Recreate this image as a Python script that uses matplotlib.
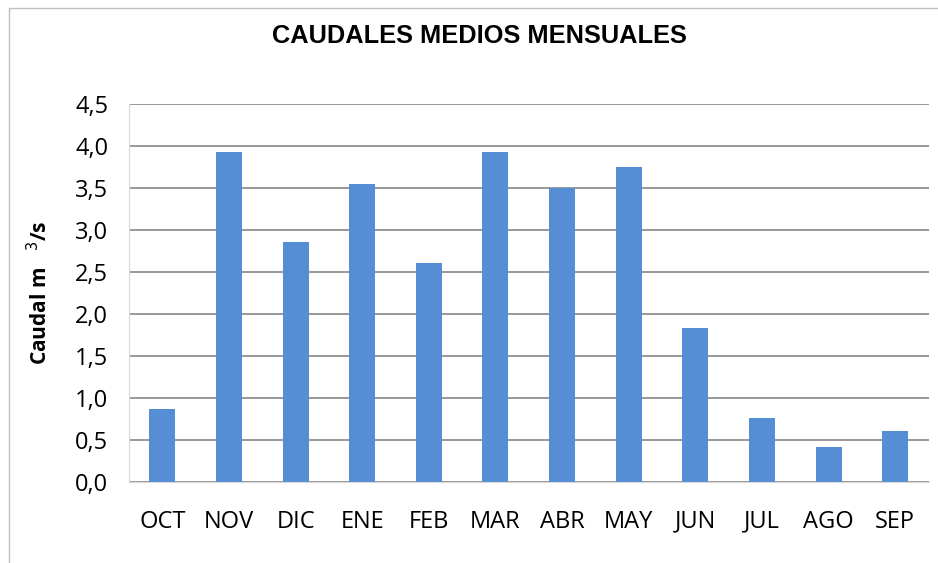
import matplotlib.pyplot as plt
from matplotlib.patches import Rectangle

# ==========================
# DATA
# ==========================

months = ["OCT", "NOV", "DIC", "ENE", "FEB", "MAR",
          "ABR", "MAY", "JUN", "JUL", "AGO", "SEP"]

caudal = [0.87, 3.93, 2.86, 3.55, 2.61, 3.93,
          3.50, 3.75, 1.83, 0.76, 0.42, 0.61]

yticks = [0.0, 0.5, 1.0, 1.5, 2.0, 2.5, 3.0, 3.5, 4.0, 4.5]
ytick_labels = [f"{v:.1f}".replace(".", ",") for v in yticks]


# ==========================
# CHART
# ==========================

fig = plt.figure(figsize=(9.38, 5.63), dpi=100)
ax = fig.add_axes([0.1375, 0.1439, 0.8525, 0.6714])

x = range(len(months))
ax.bar(x, caudal, width=0.39, color="#558ED5", zorder=3)

ax.set_xlim(-0.5, len(months) - 0.5)
ax.set_ylim(0, 4.5)

ax.set_yticks(yticks)
ax.set_yticklabels(ytick_labels, fontsize=17, family="Open Sans")
ax.set_xticks(list(x))
ax.set_xticklabels(months, fontsize=17, family="Open Sans")

ax.tick_params(axis="y", length=0, pad=15)
ax.tick_params(axis="x", length=0, pad=20)

ax.grid(axis="y", color="#868686", linewidth=1.2, zorder=0)

for side in ["top", "right"]:
    ax.spines[side].set_visible(False)
ax.spines["left"].set_color("#d9d9d9")
ax.spines["bottom"].set_color("#d9d9d9")
ax.spines["bottom"].set_zorder(4)

ax.set_ylabel("Caudal m   $^{3}$/s", fontsize=15, fontweight="bold",
              family="Open Sans", labelpad=16)

fig.text(0.511, 0.936, "CAUDALES MEDIOS MENSUALES", ha="center",
         va="center", fontsize=18.3, fontweight="bold",
         family="Liberation Sans")

# outer chart border
fig.patches.append(Rectangle((9 / 938, -0.05), 1.2, (563 - 8) / 563 + 0.05,
                             transform=fig.transFigure, fill=False,
                             edgecolor="#bfbfbf", linewidth=1))

fig.savefig("out.png", dpi=100)
plt.close(fig)
